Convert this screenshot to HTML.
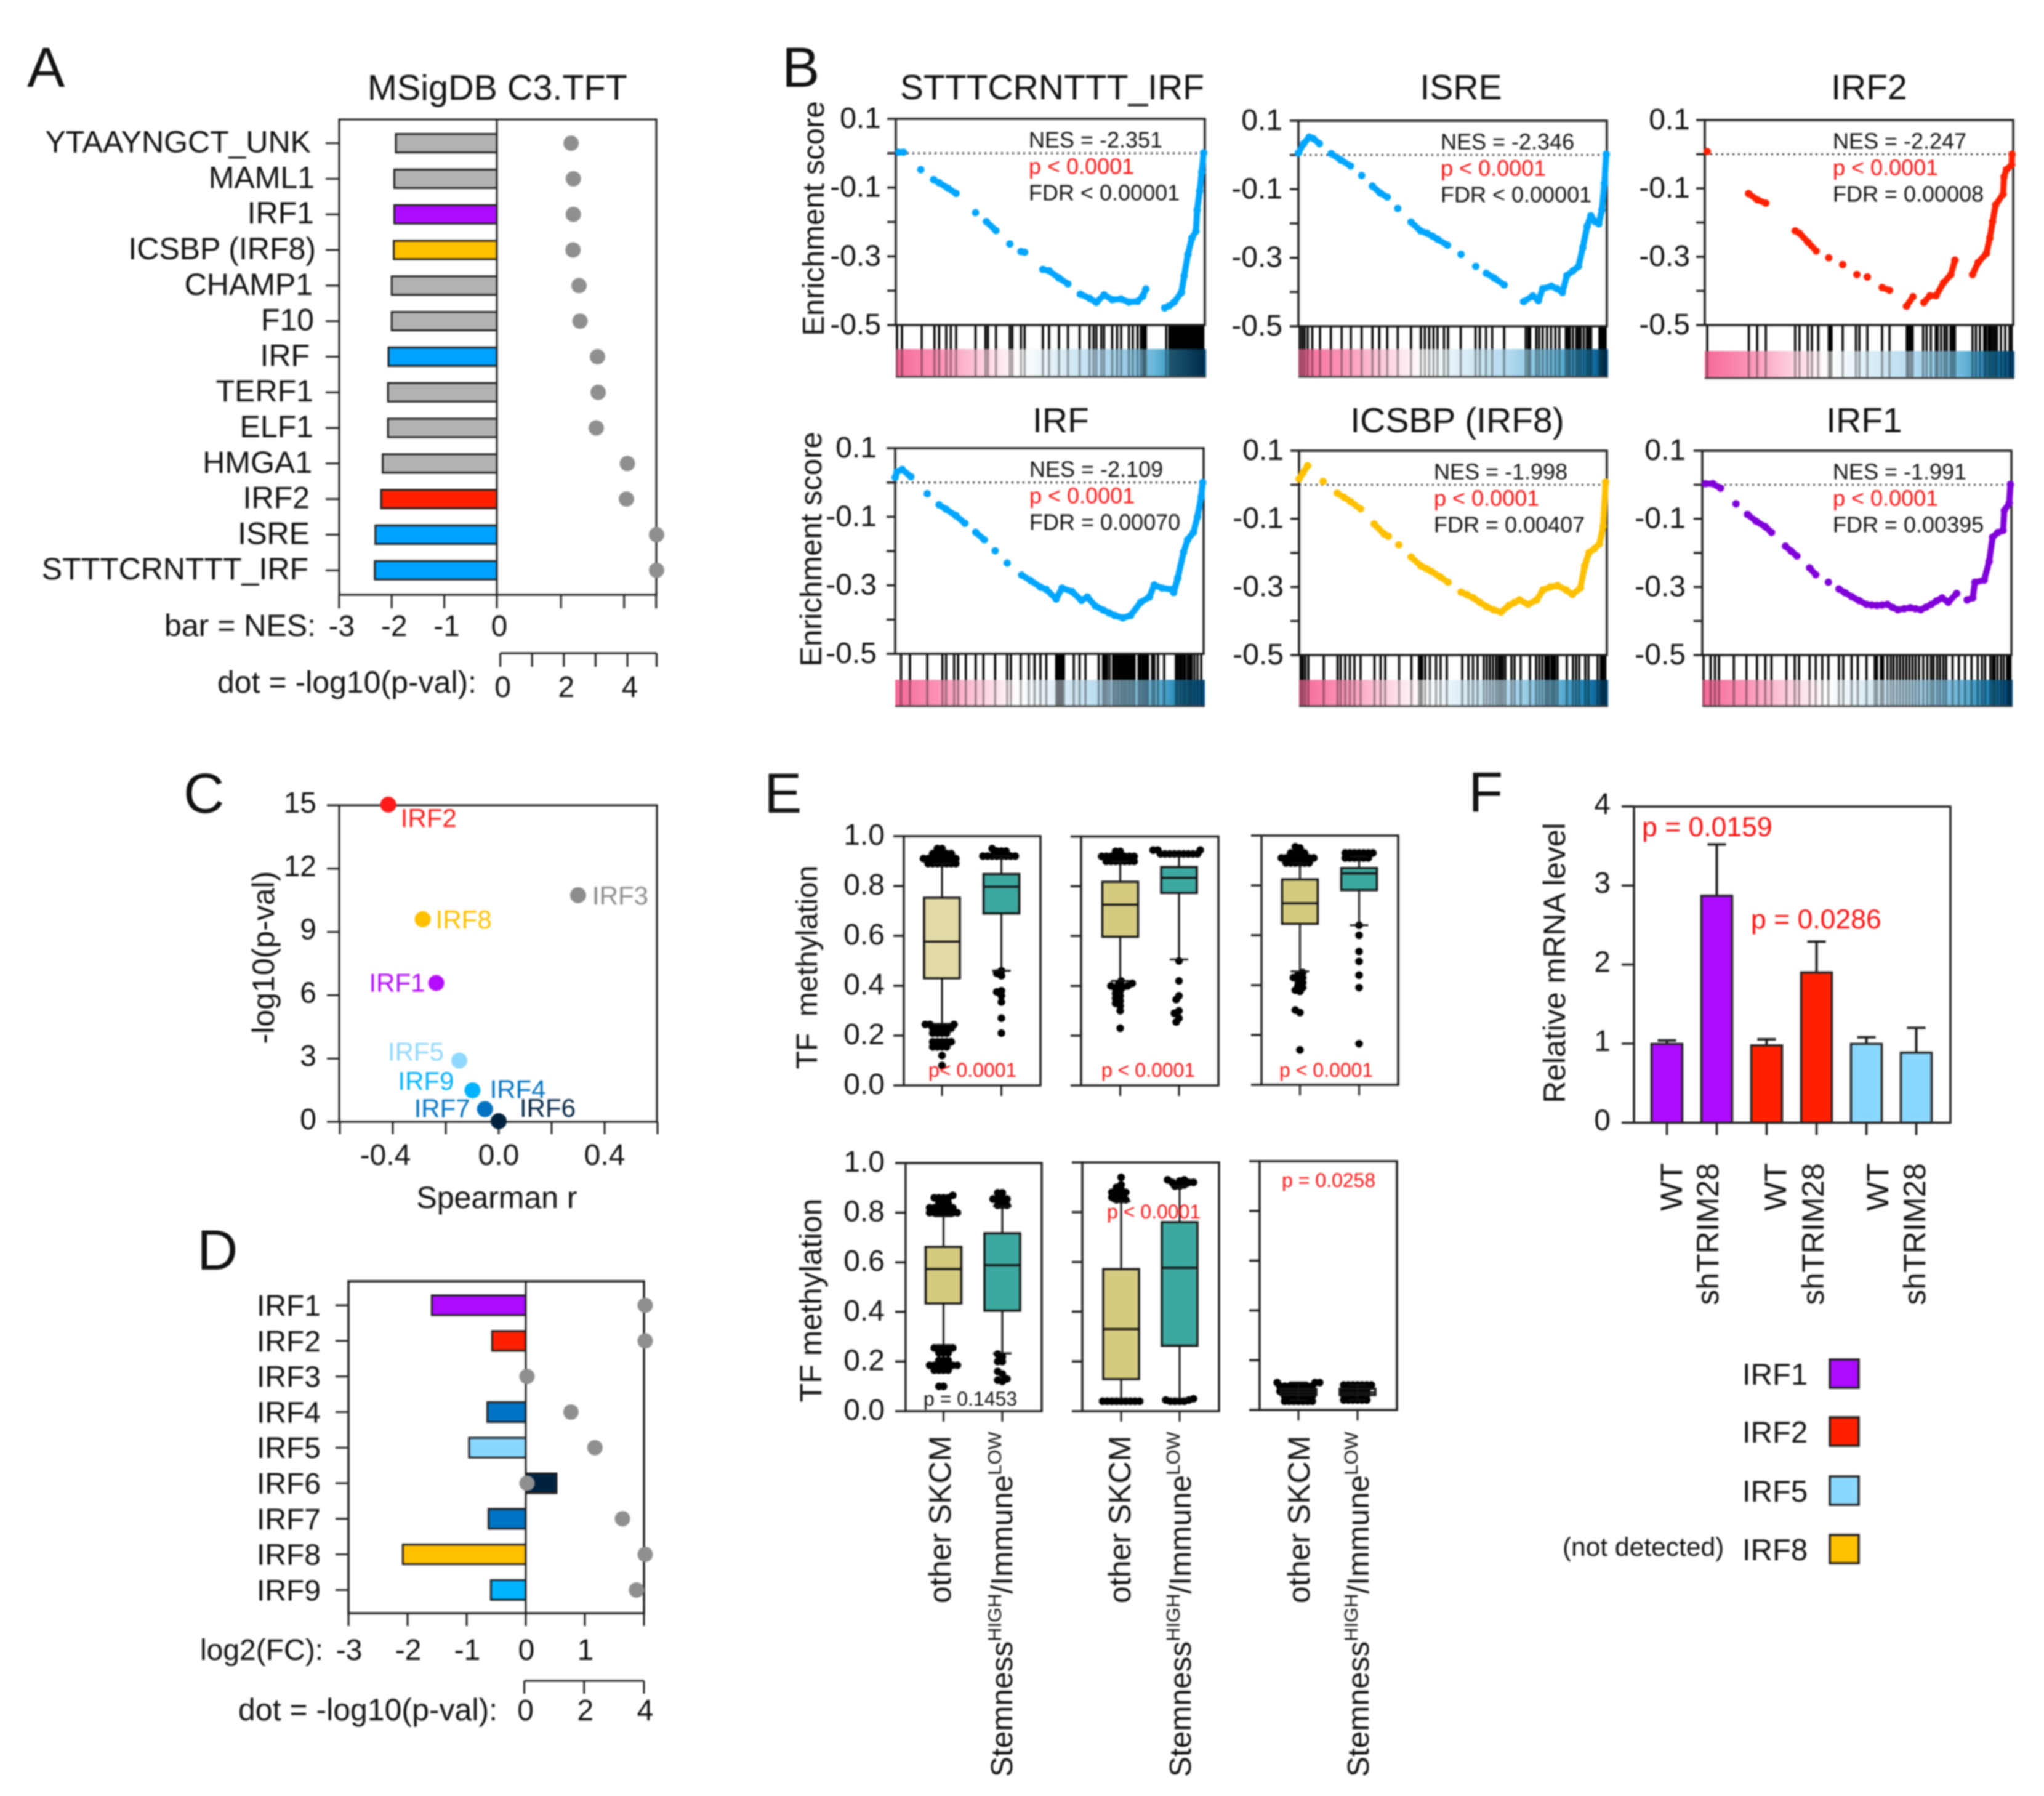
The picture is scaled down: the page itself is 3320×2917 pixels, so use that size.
<!DOCTYPE html>
<html lang="en">
<head>
<meta charset="utf-8">
<title>IRF transcription factor analysis figure</title>
<style>
html,body{margin:0;padding:0;background:#fff;}
svg{display:block;filter:blur(1.2px);}
text{font-family:"Liberation Sans",Arial,sans-serif;}
</style>
</head>
<body>
<svg id="figure" xmlns="http://www.w3.org/2000/svg" width="3320" height="2917" viewBox="0 0 3320 2917">
<rect x="0" y="0" width="3320" height="2917" fill="#ffffff"/>
<defs>
<linearGradient id="heat" x1="0" y1="0" x2="1" y2="0">
<stop offset="0" stop-color="#f4689a"/>
<stop offset="0.14" stop-color="#fb93b4"/>
<stop offset="0.28" stop-color="#fdd0de"/>
<stop offset="0.40" stop-color="#ffffff"/>
<stop offset="0.50" stop-color="#e4f1f8"/>
<stop offset="0.68" stop-color="#b2d9ee"/>
<stop offset="0.83" stop-color="#6cb8da"/>
<stop offset="0.92" stop-color="#1f85b5"/>
<stop offset="1" stop-color="#004a7c"/>
</linearGradient>
</defs>
</svg>
<script>
/* ===== Panel A data ===== */
const aCategories = ['YTAAYNGCT_UNK','MAML1','IRF1','ICSBP (IRF8)','CHAMP1','F10','IRF','TERF1','ELF1','HMGA1','IRF2','ISRE','STTTCRNTTT_IRF'];
const aNes = [-1.92,-1.95,-1.95,-1.96,-2.0,-2.0,-2.06,-2.07,-2.07,-2.17,-2.2,-2.31,-2.32];
const aDotLogP = [2.23,2.30,2.30,2.29,2.48,2.51,3.06,3.08,3.02,4.0,3.97,4.92,4.92];
const aNesTicks = [-3,-2,-1,0];
const aExtraTicks = [1.22,2.42,3.03];
const aDotTicks = [0,1,2,3,4,4.92];
const aDotTickLabels = [0,2,4];
const aColorKeys = ['grey','grey','purple','yellow','grey','grey','blue','grey','grey','grey','red','blue','blue'];

/* ===== Panel B data: running enrichment score ===== */
const esTitles = ['STTTCRNTTT_IRF','ISRE','IRF2','IRF','ICSBP (IRF8)','IRF1'];
const esNes = ['NES = -2.351','NES = -2.346','NES = -2.247','NES = -2.109','NES = -1.998','NES = -1.991'];
const esFdr = ['FDR < 0.00001','FDR < 0.00001','FDR = 0.00008','FDR = 0.00070','FDR = 0.00407','FDR = 0.00395'];
const esTicks = [0.1,0,-0.1,-0.2,-0.3,-0.4,-0.5];
const esTickLabels = [0.1,-0.1,-0.3,-0.5];

const esRank1 = [.01,.025,.081,.122,.14,.169,.195,.258,.293,.324,.369,.405,.417,.476,.496,.528,.557,.597,.627,.649,.674,.70,.729,.754,.782,.799,.809,.87,.885,.901,.924,.933,.945,.958,.971,.975,.983,.99,.996];
const esScore1 = [.003,.003,-.048,-.077,-.086,-.102,-.117,-.173,-.199,-.225,-.264,-.286,-.288,-.338,-.342,-.363,-.38,-.41,-.422,-.434,-.412,-.426,-.424,-.433,-.431,-.416,-.395,-.45,-.444,-.433,-.405,-.357,-.295,-.247,-.227,-.165,-.11,-.055,.001];
const esHits1 = [.004,.02,.084,.125,.14,.163,.178,.195,.258,.29,.298,.324,.369,.377,.405,.417,.476,.496,.528,.557,.595,.627,.64,.649,.665,.674,.70,.716,.729,.754,.767,.782,.793,.80,.804,.809,.875,.885,.89,.895,.90,.905,.91,.915,.92,.925,.93,.935,.94,.945,.95,.955,.96,.965,.97,.975,.98,.985,.99,.995];

const esRank2 = [0,.017,.035,.048,.068,.106,.138,.169,.205,.24,.265,.288,.322,.365,.397,.417,.435,.451,.483,.527,.575,.609,.635,.667,.73,.76,.778,.792,.82,.838,.856,.87,.89,.908,.922,.936,.948,.962,.974,.984,.992,.998];
const esScore2 = [.006,.033,.052,.048,.033,.004,-.015,-.032,-.06,-.091,-.111,-.123,-.156,-.196,-.222,-.228,-.237,-.246,-.263,-.29,-.325,-.345,-.359,-.379,-.428,-.411,-.425,-.39,-.383,-.39,-.401,-.352,-.338,-.325,-.27,-.208,-.177,-.195,-.201,-.16,-.084,.002];
const esHits2 = [.004,.012,.02,.03,.045,.07,.105,.14,.17,.205,.24,.262,.288,.322,.365,.397,.41,.424,.438,.451,.472,.485,.526,.574,.588,.608,.628,.667,.737,.745,.751,.771,.78,.792,.806,.819,.833,.846,.867,.874,.88,.89,.901,.908,.915,.925,.935,.942,.949,.976,.982,.987,.992,.996];

const esRank3 = [.008,.142,.17,.198,.293,.307,.334,.361,.402,.447,.493,.527,.575,.599,.654,.675,.71,.73,.75,.774,.798,.811,.868,.886,.913,.924,.933,.943,.967,.97,.978,.995,.996];
const esScore3 = [.008,-.115,-.133,-.143,-.224,-.231,-.257,-.283,-.303,-.323,-.352,-.359,-.39,-.398,-.445,-.417,-.434,-.414,-.414,-.376,-.352,-.31,-.352,-.317,-.29,-.245,-.197,-.148,-.117,-.066,-.045,-.031,0];
const esHits3 = [.008,.143,.17,.198,.293,.307,.334,.347,.368,.402,.406,.411,.447,.49,.501,.527,.575,.599,.655,.66,.667,.674,.708,.719,.733,.749,.755,.766,.777,.785,.797,.804,.811,.868,.879,.892,.906,.912,.92,.926,.933,.94,.947,.96,.974,.988,.995];

const esRank4 = [0,.006,.023,.051,.104,.142,.165,.197,.226,.261,.289,.324,.363,.41,.439,.471,.49,.522,.541,.573,.604,.623,.649,.674,.693,.712,.738,.763,.795,.824,.84,.865,.897,.903,.916,.935,.948,.967,.98,.992,.997];
const esScore4 = [.015,.031,.038,.017,-.033,-.065,-.078,-.097,-.119,-.145,-.167,-.199,-.235,-.27,-.286,-.305,-.312,-.34,-.308,-.318,-.344,-.334,-.36,-.372,-.38,-.388,-.395,-.388,-.35,-.334,-.299,-.308,-.312,-.321,-.279,-.203,-.167,-.145,-.1,-.042,0];
const esHits4 = [.019,.048,.104,.153,.165,.191,.204,.229,.261,.286,.324,.363,.375,.407,.433,.452,.471,.49,.522,.526,.53,.534,.538,.542,.547,.579,.598,.617,.66,.674,.68,.687,.695,.706,.712,.719,.725,.732,.738,.744,.75,.757,.763,.77,.776,.789,.795,.802,.808,.814,.82,.833,.84,.852,.872,.91,.915,.922,.928,.935,.94,.948,.955,.961,.97,.98,.992];

const esRank5 = [0,.012,.028,.078,.124,.146,.168,.2,.244,.276,.29,.324,.364,.396,.413,.43,.458,.484,.526,.546,.566,.587,.608,.632,.656,.682,.699,.716,.744,.772,.792,.816,.84,.868,.888,.914,.928,.942,.96,.976,.988,.996];
const esScore5 = [.017,.034,.056,.01,-.025,-.037,-.05,-.071,-.115,-.144,-.151,-.176,-.212,-.238,-.246,-.254,-.27,-.286,-.315,-.323,-.332,-.345,-.357,-.367,-.374,-.354,-.346,-.338,-.351,-.338,-.309,-.3,-.296,-.309,-.322,-.303,-.238,-.199,-.187,-.173,-.122,.008];
const esHits5 = [.005,.012,.02,.03,.08,.125,.135,.15,.165,.18,.2,.245,.265,.28,.325,.365,.39,.395,.4,.41,.425,.445,.46,.48,.53,.55,.565,.58,.6,.61,.62,.63,.64,.648,.655,.662,.67,.69,.7,.72,.75,.77,.78,.79,.8,.806,.812,.82,.826,.832,.84,.87,.89,.9,.91,.93,.94,.97,.98,.985,.99,.995];

const esRank6 = [.01,.034,.059,.109,.146,.174,.204,.224,.269,.288,.306,.347,.367,.408,.442,.462,.483,.507,.531,.548,.565,.582,.599,.616,.633,.653,.673,.69,.707,.724,.741,.758,.776,.796,.823,.857,.875,.882,.912,.928,.939,.956,.973,.977,.993,.997];
const esScore6 = [.003,.003,-.01,-.056,-.087,-.107,-.123,-.14,-.18,-.195,-.209,-.244,-.264,-.286,-.306,-.317,-.328,-.34,-.351,-.353,-.354,-.353,-.351,-.36,-.367,-.364,-.361,-.364,-.367,-.359,-.351,-.341,-.332,-.345,-.319,-.338,-.332,-.286,-.28,-.225,-.154,-.14,-.134,-.076,-.054,.001];
const esHits6 = [.004,.027,.041,.054,.102,.143,.177,.204,.224,.272,.299,.313,.347,.367,.388,.408,.442,.456,.483,.503,.531,.558,.565,.578,.585,.599,.61,.619,.63,.64,.65,.66,.67,.68,.69,.701,.715,.728,.74,.748,.76,.769,.78,.789,.81,.83,.85,.871,.891,.905,.915,.932,.94,.946,.955,.966,.975,.986,.992,.997];

/* ===== Panel C data ===== */
const cNames = ['IRF2','IRF8','IRF1','IRF3','IRF5','IRF4','IRF9','IRF7','IRF6'];
const cSpearman = [-.417,-.287,-.236,.30,-.149,-.052,-.099,-.052,0];
const cLogP = [15.03,9.6,6.58,10.74,2.9,.6,1.49,.6,.03];
const cXTicks = [-.6,-.4,-.2,0,.2,.4,.6];
const cXTickLabels = ['-0.4','0.0','0.4'];
const cYTicks = [0,3,6,9,12,15];

/* ===== Panel D data ===== */
const dCategories = ['IRF1','IRF2','IRF3','IRF4','IRF5','IRF6','IRF7','IRF8','IRF9'];
const dLog2Fc = [-1.59,-.57,0,-.65,-.96,.52,-.63,-2.08,-.59];
const dDotLogP = [4.04,4.04,.09,1.56,2.36,.09,3.28,4.04,3.75];
const dFcTicks = [-3,-2,-1,0,1,2];
const dFcTickLabels = [-3,-2,-1,0,1];
const dDotTicks = [0,2,4];
const dColorKeys = ['purple','red','none','irf4','ltblue','navy','irf4','yellow','cyan'];

/* ===== Panel E data ===== */
const eTicks = [0,.2,.4,.6,.8,1];
const eTickLabels = ['0.0','0.2','0.4','0.6','0.8','1.0'];
const eQ1 = [[.43,.69],[.597,.773],[.646,.781],[.434,.405],[.129,.263],[.06,.06]];
const eMedian = [[.577,.797],[.726,.834],[.728,.848],[.573,.588],[.33,.576],[.072,.07]];
const eQ3 = [[.753,.848],[.818,.877],[.824,.87],[.662,.717],[.571,.76],[.084,.085]];
const eWhiskerLow = [[.247,.46],[.42,.506],[.455,.64],[.266,.233],[.05,.05],[.04,.04]];
const eWhiskerHigh = [[.89,.92],[.90,.925],[.89,.915],[.786,.827],[.844,.905],[.11,.10]];
const eOutliers = [
 [[.89,.89,.89,.89,.89,.89,.89,.91,.91,.91,.91,.91,.91,.91,.91,.93,.93,.93,.93,.93,.95,.95,.08,.12,.155,.155,.155,.155,.175,.175,.175,.175,.175,.21,.21,.21,.21,.23,.23,.23,.23,.23,.245,.245,.245],
  [.92,.92,.92,.92,.92,.92,.92,.92,.94,.94,.94,.95,.46,.45,.44,.38,.375,.36,.335,.27,.21]],
 [[.90,.90,.90,.90,.90,.90,.90,.92,.92,.92,.92,.92,.92,.92,.92,.94,.94,.23,.30,.32,.33,.34,.35,.36,.37,.38,.39,.395,.40,.40,.405,.41,.42],
  [.93,.93,.93,.93,.93,.93,.93,.93,.93,.945,.945,.945,.50,.42,.36,.345,.30,.29,.27,.255]],
 [[.89,.89,.89,.89,.89,.89,.91,.91,.91,.91,.91,.91,.91,.91,.93,.93,.93,.93,.95,.955,.14,.29,.30,.375,.38,.39,.40,.41,.42,.43,.43,.44,.45],
  [.91,.91,.91,.91,.91,.91,.93,.93,.93,.93,.93,.93,.93,.64,.60,.535,.495,.44,.39,.165]],
 [[.80,.80,.80,.80,.80,.80,.80,.82,.82,.82,.82,.82,.82,.84,.84,.84,.86,.86,.86,.86,.87,.10,.10,.165,.165,.165,.165,.185,.185,.185,.185,.185,.185,.185,.205,.205,.205,.235,.235,.235,.255,.255,.255,.255,.255],
  [.83,.83,.83,.855,.855,.855,.855,.88,.88,.12,.125,.13,.15,.16,.2,.2,.22,.23]],
 [[.85,.85,.85,.86,.87,.87,.88,.88,.89,.90,.91,.94,.04,.04,.04,.04,.04,.04,.04,.04,.04],
  [.905,.905,.91,.92,.92,.925,.93,.93,.92,.04,.04,.04,.04,.045,.045,.05]],
 [[.035,.035,.035,.035,.035,.035,.035,.055,.055,.055,.055,.055,.055,.055,.075,.075,.075,.075,.075,.075,.075,.075,.095,.095,.095,.095,.095,.095,.095,.095,.11,.11,.11],
  [.04,.04,.04,.04,.04,.04,.06,.06,.06,.06,.06,.06,.08,.08,.08,.08,.08,.08,.10,.10,.10,.10,.10,.10,.10]]
];
const ePValues = ['p< 0.0001','p < 0.0001','p < 0.0001','p = 0.1453','p < 0.0001','p = 0.0258'];

/* ===== Panel F data ===== */
const fGroups = ['WT','shTRIM28','WT','shTRIM28','WT','shTRIM28'];
const fValues = [.997,2.87,.977,1.90,.997,.885];
const fErrorTops = [1.04,3.52,1.055,2.29,1.08,1.2];
const fYTicks = [0,1,2,3,4];
const fColorKeys = ['purple','purple','red','red','ltblue','ltblue'];
const fLegendNames = ['IRF1','IRF2','IRF5','IRF8'];
const fLegendKeys = ['purple','red','ltblue','yellow'];

/* ===== Styles ===== */
const COLORS = {grey:'#b2b2b2',purple:'#ad0bff',yellow:'#ffc000',blue:'#00a2ff',red:'#ff2000',irf4:'#0074c4',ltblue:'#8ad8ff',navy:'#002240',cyan:'#00b4ff',none:'#ffffff'};
const DOT = '#8f8f8f', INK = '#1e1e1e';
const SVGNS = 'http://www.w3.org/2000/svg';
const root = document.getElementById('figure');

function mk(parent, tag, attrs, name) {
  const el = document.createElementNS(SVGNS, tag);
  for (const k in attrs) el.setAttribute(k, attrs[k]);
  
  
  parent.appendChild(el);
  return el;
}
function group(parent, name) { return mk(parent, 'g', {}, name); }
function line(p, x1, y1, x2, y2, w, name, color) {
  return mk(p, 'line', {x1:x1, y1:y1, x2:x2, y2:y2, stroke:color || INK, 'stroke-width':w}, name);
}
function txt(p, s, x, y, size, anchor, name, fill, rot) {
  const a = {x:x, y:y, 'font-size':size, 'text-anchor':anchor || 'start', fill:fill || '#111'};
  if (rot) a.transform = 'rotate(-90 ' + x + ' ' + y + ')';
  const el = mk(p, 'text', a, name);
  el.textContent = s;
  return el;
}
function frame(p, l, t, r, b, w, name) {
  mk(p, 'rect', {x:l, y:t, width:r - l, height:b - t, fill:'none', stroke:INK, 'stroke-width':w}, name);
}

/* ===== Panel letters ===== */
const letters = [['A',44,141],['B',1270,141],['C',298,1320],['D',320,2062],['E',1241,1320],['F',2385,1318]];
letters.forEach(function (l) {
  txt(root, l[0], l[1], l[2], 92, 'start', 'panel-label-' + l[0].toLowerCase());
});

/* ===== Panel A ===== */
(function () {
  const g = group(root, 'panel-a-tft-enrichment');
  const x = function (v) { return 807 + 85.4 * v; };
  const dx = function (v) { return 812.6 + 51.6 * v; };
  const y = function (i) { return 232.6 + 57.8 * i; };
  const labelRight = [505,511,510,513,508,510,503,509,509,507,503,503,501];
  txt(g, 'MSigDB C3.TFT', 597, 162, 57.5, 'start', 'panel-a-title');
  frame(g, 551, 194, 1066, 966, 3, 'panel-a-frame');
  aCategories.forEach(function (c, i) {
    line(g, 529, y(i), 551, y(i), 3, 'y-tick');
    txt(g, c, labelRight[i], y(i) + 15, 50, 'end', 'category-label');
    mk(g, 'rect', {x:x(aNes[i]), y:y(i) - 15, width:x(0) - x(aNes[i]), height:30, fill:COLORS[aColorKeys[i]], stroke:INK, 'stroke-width':3}, 'nes-bar');
  });
  line(g, x(0), 194, x(0), 966, 3, 'zero-line');
  aCategories.forEach(function (c, i) {
    mk(g, 'circle', {cx:dx(aDotLogP[i]), cy:y(i), r:12.5, fill:DOT}, 'p-value-dot');
  });
  aNesTicks.forEach(function (t) {
    line(g, x(t), 966, x(t), 988, 3, 'x-tick');
    txt(g, String(t), x(t) + 4, 1033, 48, 'middle', 'nes-tick-label');
  });
  aExtraTicks.forEach(function (t) { line(g, x(t), 966, x(t), 988, 3, 'x-tick'); });
  txt(g, 'bar = NES:', 513, 1033, 50, 'end', 'bar-axis-title');
  txt(g, 'dot = -log10(p-val):', 774, 1125, 50, 'end', 'dot-axis-title');
  line(g, dx(0), 1061, dx(4.92), 1061, 3, 'dot-axis-line');
  aDotTicks.forEach(function (t) { line(g, dx(t), 1061, dx(t), 1083, 3, 'dot-axis-tick'); });
  aDotTickLabels.forEach(function (t) {
    txt(g, String(t), dx(t) + 4, 1132, 48, 'middle', 'dot-tick-label');
  });
})();

/* ===== Panel B ===== */
const esSeriesRank = [esRank1, esRank2, esRank3, esRank4, esRank5, esRank6];
const esSeriesScore = [esScore1, esScore2, esScore3, esScore4, esScore5, esScore6];
const esSeriesHits = [esHits1, esHits2, esHits3, esHits4, esHits5, esHits6];
const esLayout = [
  {l:1455,r:1957,t:193,b:528,ht:567,hb:612,tx:1709,ty:161,lab:1431,nx:1671,c:'#00a5ff'},
  {l:2109,r:2610,t:196,b:530,ht:567,hb:612,tx:2373,ty:161,lab:2083,nx:2340,c:'#00a5ff'},
  {l:2769,r:3270,t:195,b:528,ht:570,hb:614,tx:3036,ty:161,lab:2745,nx:2977,c:'#ff2000'},
  {l:1454,r:1955,t:728,b:1062,ht:1104,hb:1147,tx:1723,ty:702,lab:1424,nx:1672,c:'#00a5ff'},
  {l:2110,r:2610,t:732,b:1064,ht:1104,hb:1147,tx:2367,ty:702,lab:2085,nx:2329,c:'#ffc000'},
  {l:2765,r:3267,t:732,b:1064,ht:1104,hb:1147,tx:3028,ty:702,lab:2738,nx:2977,c:'#7f00d8'}
];
esLayout.forEach(function (o, idx) {
  const g = group(root, 'panel-b-gsea-plot');
  const x = function (v) { return o.l + (o.r - o.l) * v; };
  const y = function (v) { return o.t + (o.b - o.t) * (0.1 - v) / 0.6; };
  txt(g, esTitles[idx], o.tx, o.ty, 57, 'middle', 'gsea-title');
  mk(g, 'rect', {x:o.l, y:o.ht, width:o.r - o.l + 2, height:o.hb - o.ht, fill:'url(#heat)'}, 'rank-heatmap');
  esSeriesHits[idx].forEach(function (h) {
    line(g, x(h), o.b, x(h), o.ht, 3.5, 'hit-tick', '#000');
    const over = line(g, x(h), o.ht, x(h), o.hb, 3.5, 'hit-tick-overlay', '#000');
    over.setAttribute('opacity', '0.35');
  });
  line(g, o.l, o.hb, o.r + 2, o.hb, 3, 'heatmap-bottom-line', '#444');
  frame(g, o.l, o.t, o.r, o.b, 3.5, 'gsea-frame');
  const dot = line(g, o.l, y(0), o.r, y(0), 3, 'zero-reference-line', '#333');
  dot.setAttribute('stroke-dasharray', '3 6');
  esTicks.forEach(function (t) { line(g, o.l - 14, y(t), o.l, y(t), 3.5, 'y-tick'); });
  esTickLabels.forEach(function (t) {
    txt(g, t.toFixed(1), o.lab, y(t) + 15, 48, 'end', 'y-tick-label');
  });
  const rk = esSeriesRank[idx], es = esSeriesScore[idx];
  rk.forEach(function (v, i) {
    if (i > 0 && v - rk[i - 1] <= 0.0325) {
      const seg = line(g, x(rk[i - 1]), y(es[i - 1]), x(v), y(es[i]), 10, 'es-curve-segment', o.c);
      seg.setAttribute('stroke-linecap', 'round');
    }
  });
  rk.forEach(function (v, i) {
    mk(g, 'circle', {cx:x(v), cy:y(es[i]), r:6, fill:o.c}, 'es-point');
  });
  const base = o.t + 46.5;
  txt(g, esNes[idx], o.nx, base, 36, 'start', 'nes-value');
  txt(g, 'p < 0.0001', o.nx, base + 43, 36, 'start', 'p-value', '#ff1010');
  txt(g, esFdr[idx], o.nx, base + 86, 36, 'start', 'fdr-value');
});
txt(root, 'Enrichment score', 1338, 355, 49, 'middle', 'y-axis-title-es-top', '#111', true);
txt(root, 'Enrichment score', 1334, 892, 49, 'middle', 'y-axis-title-es-bottom', '#111', true);

/* ===== Panel C ===== */
(function () {
  const g = group(root, 'panel-c-spearman-scatter');
  const x = function (v) { return 810 + 430 * v; };
  const y = function (v) { return 1822 - 34.27 * v; };
  const colors = ['#ff1a1a','#ffc000','#b30cff','#8c8c8c','#8fd8ff','#0072c0','#00b2ff','#0072c0','#00223f'];
  const labelOffsets = [[20,36],[21,15],[-109,14],[23,15],[-116,0],[8,-18],[-121,-1],[-115,13],[34,-7]];
  frame(g, 551, 1308, 1067, 1822, 3, 'panel-c-frame');
  cXTicks.forEach(function (t) { line(g, x(t), 1822, x(t), 1842, 3, 'x-tick'); });
  cYTicks.forEach(function (t) {
    line(g, 531, y(t), 551, y(t), 3, 'y-tick');
    txt(g, String(t), 514, y(t) + 12, 48, 'end', 'y-tick-label');
  });
  cXTickLabels.forEach(function (t) {
    txt(g, t, x(parseFloat(t)) + (t.charAt(0) === '-' ? -12 : 0), 1892, 48, 'middle', 'x-tick-label');
  });
  txt(g, 'Spearman r', 807, 1962, 50, 'middle', 'x-axis-title');
  txt(g, '-log10(p-val)', 445, 1555, 50, 'middle', 'y-axis-title', '#111', true);
  cNames.forEach(function (n, i) {
    mk(g, 'circle', {cx:x(cSpearman[i]), cy:y(cLogP[i]), r:13, fill:colors[i]}, 'irf-point');
    txt(g, n, x(cSpearman[i]) + labelOffsets[i][0], y(cLogP[i]) + labelOffsets[i][1], 42, 'start', 'irf-point-label', colors[i]);
  });
})();

/* ===== Panel D ===== */
(function () {
  const g = group(root, 'panel-d-irf-expression');
  const x = function (v) { return 854 + 96 * v; };
  const dx = function (v) { return 851.6 + 48.6 * v; };
  const y = function (i) { return 2120 + 57.8 * i; };
  frame(g, 566, 2081, 1046, 2620, 3.5, 'panel-d-frame');
  dCategories.forEach(function (c, i) {
    line(g, 545, y(i), 566, y(i), 3, 'y-tick');
    txt(g, c, 521, y(i) + 17, 48, 'end', 'category-label');
    const v = dLog2Fc[i];
    if (v !== 0) {
      mk(g, 'rect', {x:Math.min(x(v), x(0)), y:y(i) - 16, width:Math.abs(x(v) - x(0)), height:32, fill:COLORS[dColorKeys[i]], stroke:INK, 'stroke-width':3}, 'log2fc-bar');
    }
  });
  line(g, x(0), 2081, x(0), 2620, 3, 'zero-line');
  dCategories.forEach(function (c, i) {
    mk(g, 'circle', {cx:dx(dDotLogP[i]), cy:y(i), r:12.5, fill:DOT}, 'p-value-dot');
  });
  dFcTicks.forEach(function (t) { line(g, x(t), 2620, x(t), 2641, 3, 'x-tick'); });
  dFcTickLabels.forEach(function (t) {
    txt(g, String(t), x(t) + 1, 2696, 48, 'middle', 'fc-tick-label');
  });
  txt(g, 'log2(FC):', 325, 2696, 48, 'start', 'fc-axis-title');
  txt(g, 'dot = -log10(p-val):', 808, 2794, 50, 'end', 'dot-axis-title');
  line(g, dx(0), 2730, dx(4), 2730, 3, 'dot-axis-line');
  dDotTicks.forEach(function (t) {
    line(g, dx(t), 2730, dx(t), 2751, 3, 'dot-axis-tick');
    txt(g, String(t), dx(t) + 2, 2794, 48, 'middle', 'dot-tick-label');
  });
})();

/* ===== Panel E ===== */
function swarmOffsets(px, minDist) {
  const placed = [];
  return px.map(function (yv) {
    let off = 0, step = 0;
    for (;;) {
      off = step % 2 === 0 ? (step / 2) * 1.5 : -((step + 1) / 2) * 1.5;
      let ok = true;
      for (let j = 0; j < placed.length; j++) {
        const ddx = placed[j][0] - off, ddy = placed[j][1] - yv;
        if (ddx * ddx + ddy * ddy < minDist * minDist) { ok = false; break; }
      }
      if (ok) break;
      step++;
    }
    placed.push([off, yv]);
    return off;
  });
}
const eLayout = [
  {l:1468,r:1690,t:1358,b:1763,c:[1530,1626.5]},
  {l:1756,r:1979,t:1358.5,b:1763,c:[1819.5,1915]},
  {l:2049,r:2271,t:1357,b:1762,c:[2111.4,2207.5]},
  {l:1471,r:1692,t:1889,b:2292,c:[1532.5,1628]},
  {l:1758,r:1980,t:1888,b:2292,c:[1821,1916]},
  {l:2046,r:2269,t:1886,b:2290,c:[2109,2205]}
];
const ePLabelPos = [[1508,1749,'#ff1010'],[1789,1749,'#ff1010'],[2078,1749,'#ff1010'],[1500,2283,'#111'],[1798,1979,'#ff1010'],[2082,1928,'#ff1010']];
const eBaselineOther = [1544,1836,2127];
const eBaselineStem = [1644,1934,2223];
eLayout.forEach(function (o, idx) {
  const g = group(root, 'panel-e-methylation-boxplot');
  const y = function (v) { return o.b - (o.b - o.t) * v; };
  frame(g, o.l, o.t, o.r, o.b, 3.5, 'boxplot-frame');
  eTicks.forEach(function (t, i) {
    line(g, o.l - 17, y(t), o.l, y(t), 3.5, 'y-tick');
    if (idx === 0 || idx === 3) txt(g, eTickLabels[i], 1437, y(t) + 14, 48, 'end', 'y-tick-label');
  });
  o.c.forEach(function (cx, b) {
    line(g, cx, o.b, cx, o.b + 17, 3, 'x-tick');
    const vals = eOutliers[idx][b];
    const py = vals.map(y);
    const offs = swarmOffsets(py, 7.5);
    py.forEach(function (yy, i) {
      mk(g, 'circle', {cx:cx + offs[i], cy:yy, r:6.2, fill:'#000'}, 'outlier-dot');
    });
    line(g, cx, y(eWhiskerLow[idx][b]), cx, y(eWhiskerHigh[idx][b]), 3, 'whisker', '#111');
    line(g, cx - 15, y(eWhiskerLow[idx][b]), cx + 15, y(eWhiskerLow[idx][b]), 3, 'whisker-cap', '#111');
    line(g, cx - 15, y(eWhiskerHigh[idx][b]), cx + 15, y(eWhiskerHigh[idx][b]), 3, 'whisker-cap', '#111');
    const fill = b === 1 ? '#3ca9a0' : (idx === 0 ? '#e4dca6' : '#d5cb7f');
    const boxFill = idx === 5 ? 'none' : fill;
    mk(g, 'rect', {x:cx - 29, y:y(eQ3[idx][b]), width:58, height:y(eQ1[idx][b]) - y(eQ3[idx][b]), fill:boxFill, stroke:'#151515', 'stroke-width':3.5}, 'box');
    line(g, cx - 29, y(eMedian[idx][b]), cx + 29, y(eMedian[idx][b]), 3.5, 'median-line', '#151515');
  });
  const lp = ePLabelPos[idx];
  txt(g, ePValues[idx], lp[0], lp[1], 32, 'start', 'p-value-label', lp[2]);
});
eBaselineOther.forEach(function (bx) {
  txt(root, 'other SKCM', bx, 2604, 50, 'start', 'category-label-other-skcm', '#111', true);
});
eBaselineStem.forEach(function (bx) {
  const t = mk(root, 'text', {x:bx, y:2886, 'font-size':49.5, fill:'#111', transform:'rotate(-90 ' + bx + ' 2886)'}, 'category-label-stemness-high-immune-low');
  const a = mk(t, 'tspan', {}, 'label-stemness');
  a.textContent = 'Stemness';
  const b = mk(t, 'tspan', {'font-size':31, dy:-18}, 'label-high-superscript');
  b.textContent = 'HIGH';
  const c = mk(t, 'tspan', {dy:18}, 'label-immune');
  c.textContent = '/Immune';
  const d = mk(t, 'tspan', {'font-size':31, dy:-18}, 'label-low-superscript');
  d.textContent = 'LOW';
});
txt(root, 'TF\u00a0 methylation', 1327, 1571, 48, 'middle', 'y-axis-title-methylation-top', '#111', true);
txt(root, 'TF methylation', 1334, 2112, 50, 'middle', 'y-axis-title-methylation-bottom', '#111', true);

/* ===== Panel F ===== */
(function () {
  const g = group(root, 'panel-f-mrna-bars');
  const x = function (i) { return 2707.5 + 81 * i; };
  const y = function (v) { return 1823.4 - 128.4 * v; };
  const labelBaselines = [2732,2791,2901,2962,3067,3127];
  frame(g, 2654, 1310, 3168, 1823.4, 3.5, 'panel-f-frame');
  fYTicks.forEach(function (t) {
    line(g, 2634, y(t), 2654, y(t), 3.5, 'y-tick');
    txt(g, String(t), 2616, y(t) + 12, 48, 'end', 'y-tick-label');
  });
  fValues.forEach(function (v, i) {
    line(g, x(i), y(v), x(i), y(fErrorTops[i]), 4, 'error-bar');
    line(g, x(i) - 15, y(fErrorTops[i]), x(i) + 15, y(fErrorTops[i]), 4, 'error-cap');
    mk(g, 'rect', {x:x(i) - 25, y:y(v), width:50, height:y(0) - y(v), fill:COLORS[fColorKeys[i]], stroke:'#222', 'stroke-width':3.5}, 'mrna-bar');
    line(g, x(i), y(0), x(i), y(0) + 20, 3.5, 'x-tick');
    txt(g, fGroups[i], labelBaselines[i], 1889, 50, 'end', 'group-label', '#111', true);
  });
  txt(g, 'Relative mRNA level', 2542, 1564, 50, 'middle', 'y-axis-title', '#111', true);
  txt(g, 'p = 0.0159', 2667, 1358, 44.5, 'start', 'p-value-irf1', '#ff1010');
  txt(g, 'p = 0.0286', 2844, 1508, 44.5, 'start', 'p-value-irf2', '#ff1010');
  const legendTops = [2208,2302,2398,2493];
  const leg = group(g, 'legend');
  fLegendNames.forEach(function (n, i) {
    txt(leg, n, 2830, legendTops[i] + 41, 49, 'start', 'legend-label');
    mk(leg, 'rect', {x:2972, y:legendTops[i], width:47, height:46, fill:COLORS[fLegendKeys[i]], stroke:'#222', 'stroke-width':3.5}, 'legend-swatch');
  });
  txt(leg, '(not detected)', 2538, 2527, 42.5, 'start', 'legend-note');
})();
</script>
</body>
</html>
